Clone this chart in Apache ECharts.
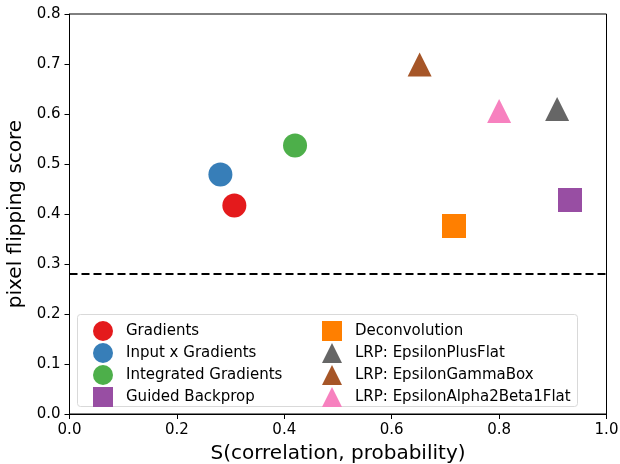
<!DOCTYPE html>
<html>
<head>
<meta charset="utf-8">
<script src="https://cdn.jsdelivr.net/npm/echarts@6/dist/echarts.min.js"></script>
<style>
  html, body { margin: 0; padding: 0; background: #fff; }
  #chart { width: 620px; height: 464px; }
</style>
</head>
<body>
<div id="chart"></div>
<script>
// methods and their scores
var methods = ['Gradients', 'Input x Gradients', 'Integrated Gradients', 'Guided Backprop',
  'Deconvolution', 'LRP: EpsilonPlusFlat', 'LRP: EpsilonGammaBox', 'LRP: EpsilonAlpha2Beta1Flat'];
var sCorr = [0.307, 0.281, 0.420, 0.932, 0.716, 0.908, 0.652, 0.800];
var pfScore = [0.417, 0.479, 0.537, 0.428, 0.376, 0.610, 0.699, 0.606];
var baseline = 0.282;
var xTicks = [0.0, 0.2, 0.4, 0.6, 0.8, 1.0];
var yTicks = [0.0, 0.1, 0.2, 0.3, 0.4, 0.5, 0.6, 0.7, 0.8];

var colors = ['#e41a1c', '#377eb8', '#4daf4a', '#984ea3', '#ff7f00', '#666666', '#a65628', '#f781bf'];
var shapes = ['circle', 'circle', 'circle', 'rect', 'rect', 'triangle', 'triangle', 'triangle'];

var font = 'DejaVu Sans';

var series = methods.map(function (m, i) {
  var s = {
    name: m,
    type: 'scatter',
    symbol: shapes[i],
    symbolSize: 24,
    symbolKeepAspect: true,
    itemStyle: { color: colors[i], opacity: 1 },
    data: [[sCorr[i], pfScore[i]]],
    z: 3
  };
  if (i === 0) {
    s.markLine = {
      silent: true,
      symbol: 'none',
      label: { show: false },
      lineStyle: { color: '#000', type: [8, 4], width: 1.8 },
      data: [{ yAxis: baseline }]
    };
  }
  return s;
});

function legendFor(names, left) {
  return {
    data: names,
    orient: 'vertical',
    left: left,
    top: 316,
    itemWidth: 20,
    itemHeight: 20,
    itemGap: 2,
    textStyle: { fontFamily: font, fontSize: 15, color: '#000', padding: [0, 0, 0, 8] },
    selectedMode: false
  };
}

var chart = echarts.init(document.getElementById('chart'));
chart.setOption({
  animation: false,
  backgroundColor: '#fff',
  grid: {
    left: 69.5, right: 13.5, top: 14, bottom: 50, show: true,
    borderColor: '#000', borderWidth: 1, outerBoundsMode: 'none', containLabel: false
  },
  xAxis: {
    type: 'value', min: 0, max: 1, interval: 0.2,
    name: 'S(correlation, probability)', nameLocation: 'middle', nameGap: 30,
    nameTextStyle: { fontFamily: font, fontSize: 20, color: '#000' },
    axisLine: { show: true, lineStyle: { color: '#000' } },
    axisTick: { show: true, length: 5, lineStyle: { color: '#000' } },
    axisLabel: {
      fontFamily: font, fontSize: 15, color: '#000', margin: 9,
      formatter: function (v) { return v.toFixed(1); }
    },
    splitLine: { show: false }
  },
  yAxis: {
    type: 'value', min: 0, max: 0.8, interval: 0.1,
    name: 'pixel flipping score', nameLocation: 'middle', nameGap: 39,
    nameTextStyle: { fontFamily: font, fontSize: 20, color: '#000' },
    axisLine: { show: true, lineStyle: { color: '#000' } },
    axisTick: { show: true, length: 5, lineStyle: { color: '#000' } },
    axisLabel: {
      fontFamily: font, fontSize: 15, color: '#000', margin: 9,
      formatter: function (v) { return v.toFixed(1); }
    },
    splitLine: { show: false }
  },
  legend: [legendFor(methods.slice(0, 4), 88), legendFor(methods.slice(4), 317)],
  graphic: [{
    type: 'rect',
    shape: { x: 77.5, y: 314.5, width: 500, height: 92, r: 3 },
    style: { fill: 'rgba(255,255,255,0.8)', stroke: '#d9d9d9', lineWidth: 1 },
    z: 1
  }],
  series: series
});
</script>
</body>
</html>
